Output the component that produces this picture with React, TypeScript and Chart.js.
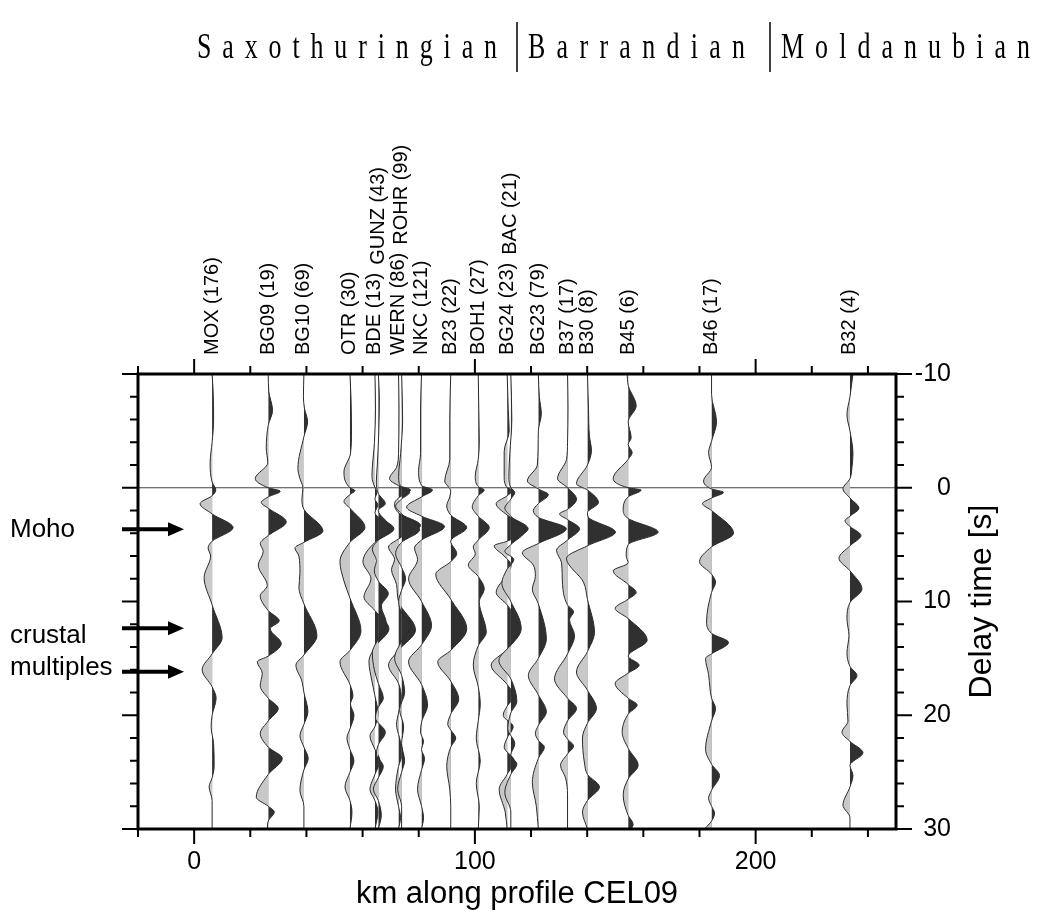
import React, { useEffect, useRef } from 'react';
import { Chart, registerables } from 'chart.js';

Chart.register(...registerables);

const SANS = '"Liberation Sans", Arial, Helvetica, sans-serif';
const SERIF = '"Liberation Serif", "Times New Roman", serif';

// ---------------- data ----------------
const REGIONS = ['Saxothuringian', 'Barrandian', 'Moldanubian'];

const STATION_NAMES = [
  'MOX (176)', 'BG09 (19)', 'BG10 (69)', 'OTR (30)', 'BDE (13)', 'GUNZ (43)', 'WERN (86)',
  'ROHR (99)', 'NKC (121)', 'B23 (22)', 'BOH1 (27)', 'BG24 (23)', 'BAC (21)', 'BG23 (79)',
  'B37 (17)', 'B30 (8)', 'B45 (6)', 'B46 (17)', 'B32 (4)',
];
const STATION_KM = [
  6.4, 26.4, 39.1, 55.5, 64.4, 65.6, 72.8, 73.9, 81.0, 91.4, 101.2, 111.5, 112.8, 122.6,
  133.0, 140.1, 154.6, 184.3, 233.6,
];

const X_TICKS = [-20, 0, 20, 40, 60, 80, 100, 120, 140, 160, 180, 200, 220, 240];
const X_LABELED = [0, 100, 200];
const Y_TICKS = [-10, -8, -6, -4, -2, 0, 2, 4, 6, 8, 10, 12, 14, 16, 18, 20, 22, 24, 26, 28, 30];
const Y_LABELED = [-10, 0, 10, 20, 30];

const ANNOTATION_TEXT = ['Moho', 'crustal', 'multiples'];
const ARROW_TIMES = [3.65, 12.36, 16.17];

// receiver functions: [delay time (s), relative amplitude]
type Pair = [number, number];
const MOX_RF: Pair[] = [[-10,0],[-8.5,1],[-6,1.5],[-4,0],[-2.2,-2],[-0.5,0],[0.2,3.7],[0.7,0],[1.4,-12],[2.3,0],[3.5,21],[4.7,0],[5.3,-4],[6,-1.5],[7.9,-8],[10.3,0],[13.2,10],[14.6,0],[16,-10],[17.5,0],[18.5,4],[20,0],[21,-1],[22.5,1.5],[24.5,2],[25.5,0],[26.3,-3],[27.5,0],[30,0]];
const BG09_RF: Pair[] = [[-10,0],[-8.5,0.5],[-6.8,4.3],[-5.5,0],[-3.5,-2],[-2.2,-0.5],[-0.8,-13],[0,0],[0.3,12],[0.8,0],[1.3,-7],[1.8,0],[3.0,18],[4.2,0],[4.9,-8],[5.6,-5],[6.8,-10],[8.6,-1],[9.5,-8],[10.8,0],[11.7,11],[12.4,2],[13.7,13],[14.8,0],[15.3,-11],[16.3,-6],[17.4,-8],[18.5,0],[19.4,10],[20.5,0],[21.6,-8],[22.8,0],[23.8,14],[25.2,0],[27.2,-12],[28,0],[28.5,6],[29.3,0],[30,-1]];
const BG10_RF: Pair[] = [[-10,0],[-8,-0.5],[-7,0.5],[-5.8,3.7],[-4.5,0],[-1.7,-6],[-0.8,-4],[0,-1],[1,-2],[1.9,0],[3.8,19],[4.8,0],[5.3,-9],[6,-5],[7.5,-4],[8.8,-5],[10.2,0],[13,13],[14.7,0],[15.6,-8],[17,-2],[18,0],[19.7,4],[20.8,0],[21.8,-4],[22.8,0],[23.8,4.3],[24.8,0],[26.6,-4],[28,0],[30,0]];
const OTR_RF: Pair[] = [[-10,0],[-8,1],[-5,1.5],[-3,0.5],[-1.4,-6],[0,0],[0.25,5],[0.6,0],[1.2,-6],[1.8,0],[3.5,15],[4.8,0],[6.5,-10],[8.2,-6],[9.7,0],[12.6,11],[14.3,0],[15.3,-10],[17.3,0],[18.3,3],[19,0.5],[20,4],[21.2,0],[22,-3],[23,0],[24,4],[25,0],[26.3,-5],[27.5,0],[28.5,2],[30,0]];
const BDE_RF: Pair[] = [[-10,0],[-7,0.5],[-4,-0.5],[-1,-3],[0,0],[0.4,2],[1,0],[1.5,3],[2.2,0],[3.6,19],[4.8,0],[6.5,-12],[8,-4],[9.6,-11],[10.8,0],[12.4,14],[14,0],[15.3,-6],[17,-3],[18.3,0],[19.8,3],[21,0],[21.8,-5],[23,0],[24,5],[25.2,0],[26.5,-5],[27.5,0],[28.5,3],[30,0]];
const GUNZ_RF: Pair[] = [[-10,0],[-8,1],[-5,0.5],[-2,-1],[-0.5,-2],[0.5,0],[1.4,7],[2,0],[3.5,12],[4.6,0],[5.4,-6],[6.4,-2],[7.3,-4],[8.2,0],[9.3,10],[10.4,3],[11.9,8],[13.3,0],[14.5,-6],[16,-4],[17.2,0],[18.5,5],[19.3,0],[20.2,-3],[21.5,7],[22.6,0],[23.4,-2],[24.5,5],[25.5,0],[26.5,-5],[27.5,0],[28.8,3],[30,0]];
const WERN_RF: Pair[] = [[-10,0],[-7,0.5],[-3,0],[-1.8,-2],[-0.8,-9],[-0.2,0],[0.2,12],[0.9,0],[1.4,-4],[2.2,0],[3.3,22],[4.5,0],[5.2,-10],[6.3,-4],[7.2,-7],[8.5,-2],[10,0],[12.5,17],[14.3,0],[15.6,-10],[17.2,0],[18.5,3],[19.8,0],[20.8,-2],[22,1],[23.3,4],[24.5,0],[26.5,-3],[28,0],[29,2],[30,0]];
const ROHR_RF: Pair[] = [[-10,0],[-6,1],[-3,-1],[-1,-3],[0,0],[0.4,8],[1,0],[1.6,-6],[2.3,0],[3.7,18],[4.8,0],[5.8,-6],[7,0],[8,4],[9,0],[10,-3],[11,0],[12.2,9],[13.5,0],[15,-7],[16.5,0],[18,3],[19.5,-2],[21,2],[22.5,0],[24,3],[25,0],[26.5,-4],[28,0],[30,0]];
const NKC_RF: Pair[] = [[-10,0],[-7,-1],[-3,-1],[-1.5,-3],[-0.2,0],[0.2,11],[0.8,0],[1.7,-15],[2.5,0],[3.4,23],[4.6,0],[5.3,-7],[6.3,-4],[8,-13],[10,0],[12.1,10],[13.8,0],[15.3,-13],[17.3,0],[19.1,6],[20.6,0],[21.5,-1],[22.3,2],[23,0],[23.8,3],[24.8,0],[26.5,-4],[28,0],[29,2],[30,0]];
const B23_RF: Pair[] = [[-10,0],[-6,-1],[-2.5,-1],[-0.6,-6],[0.3,0],[0.8,-1],[1.6,-4],[2.4,0],[3.5,16],[4.7,0],[5.8,6],[6.5,0],[7.6,-15],[9.8,0],[12.4,16],[14.3,0],[15.3,-13],[17,0],[18.6,8],[19.9,0],[20.8,-3],[21.3,0],[22,5],[22.8,0],[24.5,-4],[26.5,-1],[28,0],[30,0]];
const BOH1_RF: Pair[] = [[-10,0],[-7,0.5],[-4,1],[-2.5,0],[-1,-3],[-0.1,0],[0.2,6],[0.7,0],[1.7,-6],[2.5,0],[3.5,11],[4.6,0],[5.2,-5],[5.8,-3],[6.8,-10],[7.8,0],[8.9,6],[10,1],[12.7,8],[13.9,0],[15.6,-5],[17.5,0],[19,2],[20.5,0],[22,-2],[24,2],[26,-2],[28,1],[30,0]];
const BG24_RF: Pair[] = [[-10,0],[-7,1],[-5,2],[-3.2,-3],[-1,-3],[0,0],[0.2,6],[0.7,0],[1.4,-11],[2.4,0],[3.6,21],[4.7,0],[5.1,-13],[6,-3],[6.8,4],[7.6,0],[9.2,-11],[10.3,0],[12.4,14],[14.2,0],[15.6,-16],[17.3,0],[18.3,7],[19.2,0],[20,-4],[21,6],[22,0],[22.8,-3],[24,7],[25.2,0],[26.5,-8],[28.5,-2],[30,0]];
const BAC_RF: Pair[] = [[-10,0],[-6,1],[-3,-1],[-1,-2],[0,0],[0.4,4],[1,0],[1.8,-6],[2.5,0],[3.8,14],[5,0],[5.6,-6],[6.3,3],[7.2,-4],[8.4,-9],[10,0],[12.2,10],[13.8,0],[15.2,-12],[16.8,0],[18.8,6],[19.8,0],[21.2,-3],[22.5,4],[23.5,0],[24.3,6],[25.2,0],[26.8,-6],[28.5,0],[30,0]];
const BG23_RF: Pair[] = [[-10,0],[-8,1],[-6.5,3],[-5,0],[-2,-1],[-0.6,-11],[0.1,0],[0.6,10],[1.4,0],[2,-5],[2.6,0],[3.6,28],[4.9,0],[5.7,-16],[6.8,-5],[7.8,-3],[8.9,-6],[10.2,0],[13.3,8],[15,0],[16.5,-10],[18.2,0],[19.7,8],[20.9,0],[21.6,-3],[22.2,0],[22.8,6],[23.8,0],[25.9,-6],[28,-2],[30,0]];
const B37_RF: Pair[] = [[-10,0],[-7,0.5],[-4,0],[-2.5,-1],[-0.8,-10],[0,0],[1,9],[1.9,0],[2.3,-8],[2.8,0],[3.6,12],[4.6,0],[5.5,-11],[6.6,-6],[8.5,-5],[10.3,0],[10.9,6],[11.6,2],[13,7],[14.6,0],[16.8,-13],[18.5,0],[19.4,9],[20.5,0],[21.5,-4],[22.1,0],[22.7,6],[23.4,0],[24.4,-7],[25.5,-2],[27,0],[30,0]];
const B30_RF: Pair[] = [[-10,0],[-7,1],[-4.5,2],[-3.3,4],[-2,0],[-0.35,-11],[0.2,0],[1.3,11],[2.2,0],[2.6,1],[3.9,28],[5.1,0],[6.2,-21],[8.3,-4],[9.8,0],[12.7,7],[14.4,0],[16.2,-11],[17.8,0],[19.4,9],[20.7,0],[22,-5],[24.2,-3],[25.2,0],[26.3,12],[27.5,0],[28.5,-5],[30,0]];
const B45_RF: Pair[] = [[-10,-1],[-9,0],[-7.2,8],[-5.8,0],[-4.4,3],[-3.8,0],[-3.1,4],[-2.5,0],[-0.8,-15],[0,0],[0.2,13],[0.8,0],[2,-5],[2.7,0],[3.9,30],[5,0],[6,-2],[6.6,0],[7.3,-15],[8.5,0],[9.2,8],[9.8,0],[10.6,-13],[11.5,0],[13.4,19],[14.8,0],[15.6,11],[16.3,0],[17.2,-13],[18.5,0],[19.1,9],[19.9,0],[21.5,-6],[22.9,0],[24.4,10],[25.6,0],[27,-5],[28.8,0],[29.6,5],[30,3]];
const B46_RF: Pair[] = [[-10,0],[-8.2,0],[-5.8,5],[-4.1,0],[-3.1,-3],[-1.8,0],[-0.6,-8],[0.1,0],[0.4,12],[0.9,0],[1.4,-9],[2,0],[4,22],[5.2,0],[6.5,-12],[7.6,0],[8.3,4],[9.2,0],[11.8,-5],[12.8,0],[13.6,17],[14.6,0],[15,-6],[16.4,-3],[18.5,0],[19.4,4],[20.5,0],[23,-6],[24.3,0],[25.3,8],[26.6,0],[27.3,-3],[28,0],[28.6,3],[29.3,0],[30,-7]];
const B32_RF: Pair[] = [[-10,3],[-8,0],[-6.4,-3],[-5,0],[-3,3],[-1.8,2],[-0.8,0],[0.1,-7],[0.9,0],[1.8,9],[2.5,0],[2.9,-5],[3.4,0],[4.2,11],[5.1,0],[6.2,-11],[7.3,0],[8.9,12],[10.1,0],[11.5,-3],[13,-1],[14.5,-3],[15.7,0],[16.5,7],[17.4,0],[19,-3],[20.5,-2],[21.5,-8],[22.3,0],[23.3,13],[24.4,0],[25.3,3],[26.3,0],[27.9,-7],[29,0],[30,0]];

const TRACES: Pair[][] = [
  MOX_RF, BG09_RF, BG10_RF, OTR_RF, BDE_RF, GUNZ_RF, WERN_RF, ROHR_RF, NKC_RF, B23_RF,
  BOH1_RF, BG24_RF, BAC_RF, BG23_RF, B37_RF, B30_RF, B45_RF, B46_RF, B32_RF,
];

// ---------------- styles ----------------
const AMP_TO_KM = 1 / 2.807;
const POS_FILL = '#303030';
const NEG_FILL = '#c8c8c8';
const LINE_COLOR = '#2a2a2a';

// fills positive lobes dark (right of the station) and negative lobes gray (left)
const wigglePlugin = {
  id: 'wiggleFill',
  beforeDatasetDraw(chart: any, args: any) {
    const ds = chart.data.datasets[args.index];
    if (ds.baseKm === undefined) return;
    const meta = args.meta;
    const pts = meta.data;
    if (!pts || pts.length < 2) return;
    meta.dataset.updateControlPoints(chart.chartArea, 'y');
    const base = chart.scales.x.getPixelForValue(ds.baseKm);
    const { left, right, top, bottom } = chart.chartArea;
    const ctx = chart.ctx as CanvasRenderingContext2D;
    const path = new Path2D();
    path.moveTo(base, pts[0].y);
    path.lineTo(pts[0].x, pts[0].y);
    for (let i = 1; i < pts.length; i++) {
      const p0 = pts[i - 1];
      const p1 = pts[i];
      const c1x = p0.cp2x ?? p0.x, c1y = p0.cp2y ?? p0.y;
      const c2x = p1.cp1x ?? p1.x, c2y = p1.cp1y ?? p1.y;
      path.bezierCurveTo(c1x, c1y, c2x, c2y, p1.x, p1.y);
    }
    path.lineTo(base, pts[pts.length - 1].y);
    path.closePath();
    ctx.save();
    ctx.beginPath();
    ctx.rect(left, top, base - left, bottom - top);
    ctx.clip();
    ctx.fillStyle = NEG_FILL;
    ctx.fill(path);
    ctx.restore();
    ctx.save();
    ctx.beginPath();
    ctx.rect(base, top, right - base, bottom - top);
    ctx.clip();
    ctx.fillStyle = POS_FILL;
    ctx.fill(path);
    ctx.restore();
  },
};

function drawSpaced(ctx: CanvasRenderingContext2D, text: string, x0: number, x1: number, baseline: number, squeeze: number) {
  const chars = Array.from(text);
  const widths = chars.map((c) => ctx.measureText(c).width * squeeze);
  const total = widths.reduce((s, w) => s + w, 0);
  const gap = chars.length > 1 ? (x1 - x0 - total) / (chars.length - 1) : 0;
  let cx = x0;
  chars.forEach((c, i) => {
    ctx.save();
    ctx.translate(cx, baseline);
    ctx.scale(squeeze, 1);
    ctx.fillText(c, 0, 0);
    ctx.restore();
    cx += widths[i] + gap;
  });
}

const decorPlugin = {
  id: 'decor',
  beforeDatasetsDraw(chart: any) {
    const { ctx, chartArea: a, scales } = chart;
    const y0 = scales.y.getPixelForValue(0);
    ctx.save();
    ctx.strokeStyle = '#444';
    ctx.lineWidth = 1;
    ctx.beginPath();
    ctx.moveTo(a.left, y0);
    ctx.lineTo(a.right, y0);
    ctx.stroke();
    ctx.restore();
  },
  afterDraw(chart: any) {
    const ctx = chart.ctx as CanvasRenderingContext2D;
    const a = chart.chartArea;
    const xs = chart.scales.x;
    const ys = chart.scales.y;
    ctx.save();
    ctx.strokeStyle = '#000';
    ctx.fillStyle = '#000';

    // frame
    ctx.lineWidth = 3;
    ctx.strokeRect(a.left, a.top, a.right - a.left, a.bottom - a.top);

    // tick marks
    ctx.lineWidth = 2;
    const seg = (x1: number, y1: number, x2: number, y2: number) => {
      ctx.beginPath();
      ctx.moveTo(x1, y1);
      ctx.lineTo(x2, y2);
      ctx.stroke();
    };
    X_TICKS.forEach((v) => {
      const px = xs.getPixelForValue(v);
      const len = X_LABELED.includes(v) ? 15 : 8;
      seg(px, a.bottom, px, a.bottom + len);
      seg(px, a.top, px, a.top - len);
    });
    Y_TICKS.forEach((v) => {
      const py = ys.getPixelForValue(v);
      const len = Y_LABELED.includes(v) ? 16 : 8;
      seg(a.left - len, py, a.left, py);
      seg(a.right, py, a.right + len, py);
    });

    // station labels (rotated, stacked when crowded)
    ctx.font = `20px ${SANS}`;
    ctx.textAlign = 'left';
    ctx.textBaseline = 'middle';
    const placed: { x: number; lo: number; hi: number }[] = [];
    STATION_NAMES.forEach((name, i) => {
      const x = xs.getPixelForValue(STATION_KM[i]);
      const len = ctx.measureText(name).width;
      let start = a.top - 19;
      let moved = true;
      while (moved) {
        moved = false;
        for (const p of placed) {
          if (Math.abs(p.x - x) < 16 && start > p.hi && start - len < p.lo) {
            start = p.hi - 8;
            moved = true;
          }
        }
      }
      placed.push({ x, lo: start, hi: start - len });
      ctx.save();
      ctx.translate(x, start);
      ctx.rotate(-Math.PI / 2);
      ctx.fillText(name, 0, 0);
      ctx.restore();
    });

    // region header
    ctx.font = `35px ${SERIF}`;
    ctx.textBaseline = 'alphabetic';
    const spans = [[197, 497], [528, 745], [781, 1030]];
    REGIONS.forEach((r, i) => drawSpaced(ctx, r, spans[i][0], spans[i][1], 58, 0.74));
    ctx.lineWidth = 1.5;
    seg(517, 22, 517, 72);
    seg(770, 22, 770, 72);

    // left annotations
    const ay = ARROW_TIMES.map((t) => ys.getPixelForValue(t));
    ctx.font = `26px ${SANS}`;
    ctx.fillText(ANNOTATION_TEXT[0], 10, ay[0] + 8);
    ctx.fillText(ANNOTATION_TEXT[1], 10, ay[1] + 15);
    ctx.fillText(ANNOTATION_TEXT[2], 10, ay[2] + 3);
    ay.forEach((y) => {
      ctx.lineWidth = 4;
      seg(122, y, 170, y);
      ctx.beginPath();
      ctx.moveTo(168, y - 7);
      ctx.lineTo(184, y);
      ctx.lineTo(168, y + 7);
      ctx.closePath();
      ctx.fill();
    });

    // right axis title
    ctx.font = `32px ${SANS}`;
    ctx.textAlign = 'center';
    ctx.textBaseline = 'middle';
    ctx.save();
    ctx.translate(982, (a.top + a.bottom) / 2);
    ctx.rotate(-Math.PI / 2);
    ctx.fillText('Delay time [s]', 0, 0);
    ctx.restore();

    ctx.restore();
  },
};

export default function App() {
  const ref = useRef<HTMLCanvasElement | null>(null);
  useEffect(() => {
    const canvas = ref.current;
    if (!canvas) return;
    const datasets: any[] = TRACES.map((tr, i) => ({
      label: STATION_NAMES[i],
      data: tr.map(([t, amp]) => ({ x: STATION_KM[i] + amp * AMP_TO_KM, y: t })),
      baseKm: STATION_KM[i],
      borderColor: LINE_COLOR,
      borderWidth: 1,
      pointRadius: 0,
      pointHoverRadius: 0,
      fill: false,
      cubicInterpolationMode: 'monotone',
      order: TRACES.length - i,
    }));
    const chart = new Chart(canvas, {
      type: 'line',
      data: { datasets },
      options: {
        responsive: false,
        maintainAspectRatio: false,
        animation: false,
        events: [],
        indexAxis: 'y',
        layout: { padding: { left: 138, top: 374, right: 89, bottom: 0 } },
        plugins: { legend: { display: false }, tooltip: { enabled: false } },
        scales: {
          x: {
            type: 'linear',
            position: 'bottom',
            min: -20,
            max: 250,
            afterBuildTicks: (s: any) => { s.ticks = X_TICKS.map((v) => ({ value: v })); },
            afterFit: (s: any) => { s.height = 84; },
            grid: { display: false, drawTicks: false },
            border: { display: false },
            ticks: {
              autoSkip: false,
              maxRotation: 0,
              minRotation: 0,
              padding: 18,
              color: '#000',
              font: { family: SANS, size: 25 },
              callback: (v: any) => (X_LABELED.includes(Number(v)) ? String(v) : ''),
            },
            title: {
              display: true,
              text: 'km along profile CEL09',
              color: '#000',
              font: { family: SANS, size: 31 },
              padding: 0,
            },
          },
          y: {
            type: 'linear',
            position: 'right',
            min: -10,
            max: 30,
            reverse: true,
            afterBuildTicks: (s: any) => { s.ticks = Y_TICKS.map((v) => ({ value: v })); },
            afterFit: (s: any) => { s.width = 55; },
            grid: { display: false, drawTicks: false },
            border: { display: false },
            ticks: {
              autoSkip: false,
              crossAlign: 'far',
              padding: 19,
              color: '#000',
              font: { family: SANS, size: 25 },
              callback: (v: any) => (Y_LABELED.includes(Number(v)) ? String(v) : ''),
            },
          },
        },
      } as any,
      plugins: [wigglePlugin, decorPlugin],
    });
    return () => chart.destroy();
  }, []);
  return (
    <div style={{ position: 'absolute', left: 0, top: 0, width: 1040, height: 913, background: '#fff' }}>
      <canvas ref={ref} width={1040} height={913} style={{ display: 'block' }} />
    </div>
  );
}
